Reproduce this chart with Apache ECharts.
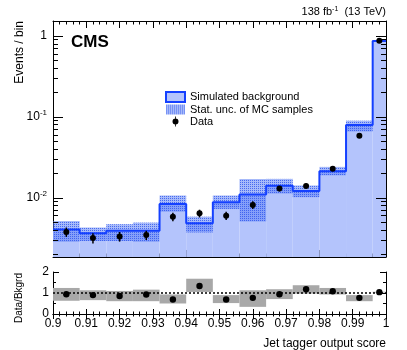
<!DOCTYPE html>
<html>
<head>
<meta charset="utf-8">
<script src="https://cdn.jsdelivr.net/npm/echarts@6/dist/echarts.min.js"></script>
<style>
html,body{margin:0;padding:0;background:#fff;}
#chart{width:407px;height:350px;}
</style>
</head>
<body>
<div id="chart"></div>
<script>
// bins of the jet tagger score
var binEdges = [0.900, 0.908, 0.916, 0.924, 0.932, 0.940, 0.948, 0.956, 0.964, 0.972, 0.980, 0.988, 0.996, 1.000];
// simulated background and its stat. uncertainty band
var mcValues = [0.00402, 0.00363, 0.00388, 0.00388, 0.00833, 0.00482, 0.00874, 0.0109, 0.0140, 0.0120, 0.0211, 0.0787, 0.858];
var mcLow    = [0.00284, 0.00290, 0.00290, 0.00284, 0.00668, 0.00370, 0.00723, 0.00506, 0.0112, 0.0101, 0.0188, 0.0655, 0.845];
var mcHigh   = [0.00512, 0.00426, 0.00468, 0.00490, 0.0106, 0.00580, 0.0106, 0.0170, 0.0170, 0.0141, 0.0239, 0.0891, 0.871];
// data
var dataValues = [0.00376, 0.00316, 0.00330, 0.00344, 0.00579, 0.00637, 0.00596, 0.0081, 0.0129, 0.0139, 0.0226, 0.0579, 0.866];
var dataErr    = [0.00050, 0.00045, 0.00045, 0.00045, 0.00070, 0.00070, 0.00070, 0.0009, 0.0010, 0.0010, 0.0013, 0.0022, 0.008];
// ratio panel
var ratioValues = [0.94, 0.90, 0.86, 0.93, 0.69, 1.33, 0.69, 0.77, 0.94, 1.18, 1.08, 0.77, 1.04];
var ratioLow    = [0.63, 0.66, 0.61, 0.61, 0.50, 1.05, 0.52, 0.34, 0.71, 0.97, 0.93, 0.61, 1.02];
var ratioHigh   = [1.24, 1.13, 1.10, 1.16, 0.93, 1.68, 0.90, 1.13, 1.18, 1.37, 1.24, 0.90, 1.06];
// log axis ticks
var logMajorTicks = [0.01, 0.1, 1];
var logMinorTicks = [0.002, 0.003, 0.004, 0.005, 0.006, 0.007, 0.008, 0.009,
                     0.02, 0.03, 0.04, 0.05, 0.06, 0.07, 0.08, 0.09,
                     0.2, 0.3, 0.4, 0.5, 0.6, 0.7, 0.8, 0.9];

var FONT = '"Liberation Sans", Arial, Helvetica, sans-serif';
var yMin = 0.00184, yMax = 1.52;

// dotted fill for the stat. unc. band
var pc = document.createElement('canvas');
pc.width = 2; pc.height = 2;
var pctx = pc.getContext('2d');
pctx.fillStyle = 'rgba(95,130,245,0.55)';
pctx.fillRect(0, 0, 2, 2);
pctx.fillStyle = 'rgba(40,80,235,0.75)';
pctx.fillRect(0, 0, 1, 1);
var bandFill = {image: pc, repeat: 'repeat'};

var bkgFill = [], bandRects = [], outline = [], dataPts = [], ratioBoxes = [], ratioPts = [], yTicks = [];
for (var i = 0; i < mcValues.length; i++) {
  var lo = binEdges[i], hi = binEdges[i + 1], c = (lo + hi) / 2;
  bkgFill.push([lo, hi, mcValues[i]]);
  bandRects.push([lo, hi, mcLow[i], mcHigh[i]]);
  outline.push([lo, mcValues[i]]);
  dataPts.push([c, dataValues[i], dataErr[i]]);
  ratioBoxes.push([lo, hi, ratioLow[i], ratioHigh[i]]);
  ratioPts.push([c, ratioValues[i]]);
}
outline.push([binEdges[binEdges.length - 1], mcValues[mcValues.length - 1]]);
logMajorTicks.forEach(function (v) { yTicks.push([0.95, v, 1]); });
logMinorTicks.forEach(function (v) { yTicks.push([0.95, v, 0]); });

function px(v) { return Math.round(v) + 0.5; }

var myChart = echarts.init(document.getElementById('chart'), null, {renderer: 'canvas'});

var axisLine = {show: true, lineStyle: {color: '#000', width: 1}};

var option = {
  animation: false,
  backgroundColor: '#fff',
  textStyle: {fontFamily: FONT},
  grid: [
    {left: 53, top: 21, width: 333, height: 236},
    {left: 53, top: 272, width: 333, height: 42}
  ],
  legend: {
    orient: 'vertical', left: 165, top: 91, padding: 0,
    itemWidth: 19, itemHeight: 10, itemGap: 1,
    selectedMode: false,
    textStyle: {fontSize: 11, fontFamily: FONT, color: '#000'},
    data: [
      {name: 'Simulated background', icon: 'rect', itemStyle: {color: '#b4c4fc', borderColor: '#1440ff', borderWidth: 2}},
      {name: 'Stat. unc. of MC samples', icon: 'rect', itemStyle: {color: bandFill, borderWidth: 0}},
      {name: 'Data', icon: 'path://M2.6,0 L3.4,0 L3.4,10 L2.6,10 Z M6,5 A3,3 0 1 1 0,5 A3,3 0 1 1 6,5 Z', itemStyle: {color: '#000'}}
    ]
  },
  xAxis: [
    {gridIndex: 0, type: 'value', min: 0.9, max: 1.0, interval: 0.01, position: 'bottom',
     axisLine: axisLine, axisLabel: {show: false}, splitLine: {show: false},
     axisTick: {inside: true, length: 7, lineStyle: {color: '#000'}},
     minorTick: {show: true, splitNumber: 5, length: 3.5, lineStyle: {color: '#000'}}},
    {gridIndex: 0, type: 'value', min: 0.9, max: 1.0, interval: 0.01, position: 'top',
     axisLine: axisLine, axisLabel: {show: false}, splitLine: {show: false},
     axisTick: {inside: true, length: 7, lineStyle: {color: '#000'}},
     minorTick: {show: true, splitNumber: 5, length: 3.5, lineStyle: {color: '#000'}}},
    {gridIndex: 1, type: 'value', min: 0.9, max: 1.0, interval: 0.01, position: 'bottom',
     axisLine: axisLine, splitLine: {show: false},
     axisLabel: {fontSize: 12, color: '#000', fontFamily: FONT, margin: 4},
     axisTick: {inside: true, length: 5, lineStyle: {color: '#000'}},
     minorTick: {show: true, splitNumber: 5, length: 2.5, lineStyle: {color: '#000'}}},
    {gridIndex: 1, type: 'value', min: 0.9, max: 1.0, interval: 0.01, position: 'top',
     axisLine: axisLine, axisLabel: {show: false}, splitLine: {show: false},
     axisTick: {inside: true, length: 5, lineStyle: {color: '#000'}},
     minorTick: {show: true, splitNumber: 5, length: 2.5, lineStyle: {color: '#000'}}}
  ],
  yAxis: [
    {gridIndex: 0, type: 'log', min: yMin, max: yMax, position: 'left',
     axisLine: axisLine, axisTick: {show: false}, splitLine: {show: false},
     axisLabel: {
       fontSize: 12, color: '#000', fontFamily: FONT, margin: 6,
       formatter: function (v) {
         var l = Math.log10(v), r = Math.round(l);
         if (Math.abs(l - r) > 1e-6) return '';
         if (r === 0) return '1';
         return '10{sup|-' + (-r) + '}';
       },
       rich: {sup: {fontSize: 8, fontFamily: FONT, color: '#000', padding: [0, 0, 7, 0]}}
     }},
    {gridIndex: 0, type: 'log', min: yMin, max: yMax, position: 'right',
     axisLine: axisLine, axisTick: {show: false}, axisLabel: {show: false}, splitLine: {show: false}},
    {gridIndex: 1, type: 'value', min: 0, max: 2, interval: 1, position: 'left',
     axisLine: axisLine, splitLine: {show: false},
     axisLabel: {fontSize: 12, color: '#000', fontFamily: FONT, margin: 4},
     axisTick: {inside: true, length: 6, lineStyle: {color: '#000'}},
     minorTick: {show: true, splitNumber: 2, length: 3, lineStyle: {color: '#000'}}},
    {gridIndex: 1, type: 'value', min: 0, max: 2, interval: 1, position: 'right',
     axisLine: axisLine, axisLabel: {show: false}, splitLine: {show: false},
     axisTick: {inside: true, length: 6, lineStyle: {color: '#000'}},
     minorTick: {show: true, splitNumber: 2, length: 3, lineStyle: {color: '#000'}}}
  ],
  series: [
    {
      name: 'Simulated background', type: 'custom', xAxisIndex: 0, yAxisIndex: 0, z: 1,
      data: bkgFill,
      renderItem: function (params, api) {
        var p1 = api.coord([api.value(0), yMin]);
        var p2 = api.coord([api.value(1), api.value(2)]);
        return {type: 'rect', shape: {x: p1[0], y: p2[1], width: p2[0] - p1[0], height: p1[1] - p2[1]},
                style: {fill: '#b4c4fc'}};
      }
    },
    {
      name: 'Stat. unc. of MC samples', type: 'custom', xAxisIndex: 0, yAxisIndex: 0, z: 2,
      data: bandRects,
      renderItem: function (params, api) {
        var p1 = api.coord([api.value(0), api.value(2)]);
        var p2 = api.coord([api.value(1), api.value(3)]);
        return {type: 'rect', shape: {x: p1[0], y: p2[1], width: p2[0] - p1[0], height: p1[1] - p2[1]},
                style: {fill: bandFill}};
      }
    },
    {
      name: 'Simulated background', type: 'line', xAxisIndex: 0, yAxisIndex: 0, z: 3,
      step: 'end', symbol: 'none', data: outline,
      lineStyle: {color: '#1440ff', width: 2}
    },
    {
      name: 'Data', type: 'custom', xAxisIndex: 0, yAxisIndex: 0, z: 5,
      data: dataPts,
      renderItem: function (params, api) {
        var x = api.value(0), y = api.value(1), e = api.value(2);
        var p = api.coord([x, y]), pt = api.coord([x, y + e]), pb = api.coord([x, Math.max(y - e, yMin)]);
        return {type: 'group', children: [
          {type: 'line', shape: {x1: p[0], y1: pt[1], x2: p[0], y2: pb[1]}, style: {stroke: '#000', lineWidth: 1.5}},
          {type: 'circle', shape: {cx: p[0], cy: p[1], r: 3}, style: {fill: '#000'}}
        ]};
      }
    },
    {
      name: 'ticks', type: 'custom', xAxisIndex: 0, yAxisIndex: 0, z: 6, silent: true,
      data: yTicks,
      renderItem: function (params, api) {
        var v = api.value(1), len = api.value(2) ? 10 : 5;
        var pl = api.coord([0.9, v]), pr = api.coord([1.0, v]);
        var y = px(pl[1]);
        return {type: 'group', children: [
          {type: 'line', shape: {x1: pl[0], y1: y, x2: pl[0] + len, y2: y}, style: {stroke: '#000', lineWidth: 1}},
          {type: 'line', shape: {x1: pr[0], y1: y, x2: pr[0] - len, y2: y}, style: {stroke: '#000', lineWidth: 1}}
        ]};
      }
    },
    {
      name: 'ratioBand', type: 'custom', xAxisIndex: 2, yAxisIndex: 2, z: 1,
      data: ratioBoxes,
      renderItem: function (params, api) {
        var p1 = api.coord([api.value(0), api.value(2)]);
        var p2 = api.coord([api.value(1), api.value(3)]);
        return {type: 'rect', shape: {x: p1[0], y: p2[1], width: p2[0] - p1[0], height: p1[1] - p2[1]},
                style: {fill: '#a8a8a8'}};
      }
    },
    {
      name: 'unity', type: 'line', xAxisIndex: 2, yAxisIndex: 2, z: 2, symbol: 'none',
      data: [[0.9, 1], [1.0, 1]],
      lineStyle: {color: '#000', width: 1.5, type: [2, 2]}
    },
    {
      name: 'ratio', type: 'custom', xAxisIndex: 2, yAxisIndex: 2, z: 3,
      data: ratioPts,
      renderItem: function (params, api) {
        var p = api.coord([api.value(0), api.value(1)]);
        return {type: 'circle', shape: {cx: p[0], cy: p[1], r: 3.2}, style: {fill: '#000'}};
      }
    }
  ],
  graphic: [
    {type: 'text', x: 386, y: 12, style: {
      text: '138 fb{sup|-1}  (13 TeV)', align: 'right', verticalAlign: 'middle',
      font: '11px ' + FONT, fill: '#000',
      rich: {sup: {fontSize: 7, fontFamily: FONT, padding: [0, 0, 6, 0]}}
    }},
    {type: 'text', x: 71, y: 42, style: {
      text: 'CMS', align: 'left', verticalAlign: 'middle', font: 'bold 17px ' + FONT, fill: '#000'
    }},
    {type: 'text', x: 386, y: 344, style: {
      text: 'Jet tagger output score', align: 'right', verticalAlign: 'middle', font: '12px ' + FONT, fill: '#000'
    }},
    {type: 'text', x: 20, y: 21, rotation: Math.PI / 2, style: {
      text: 'Events / bin', align: 'right', verticalAlign: 'middle', font: '12px ' + FONT, fill: '#000'
    }},
    {type: 'text', x: 19, y: 273, rotation: Math.PI / 2, style: {
      text: 'Data/Bkgrd', align: 'right', verticalAlign: 'middle', font: '10px ' + FONT, fill: '#000'
    }}
  ]
};

myChart.setOption(option);
</script>
</body>
</html>
